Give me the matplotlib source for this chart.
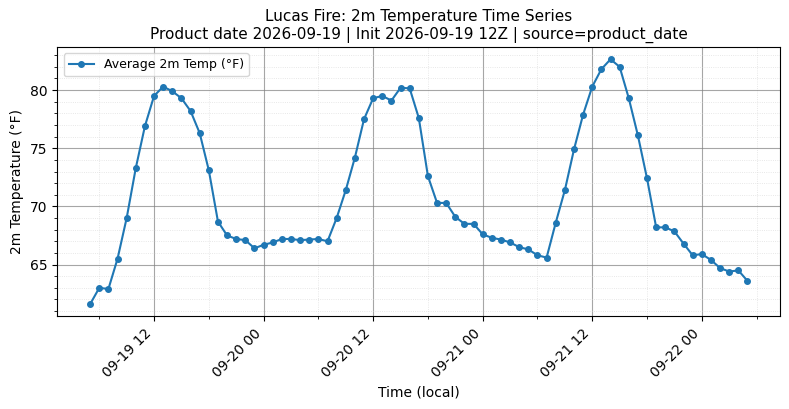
import matplotlib
matplotlib.use('Agg')
import matplotlib.dates as mdates
import matplotlib.pyplot as plt
import numpy as np
import pandas as pd

# hourly local times starting 2026-09-19 05:00
start_time = '2026-09-19 05:00'
temps_f = [
    61.6, 63.0, 62.9, 65.5, 69.0, 73.3, 76.9, 79.5, 80.3, 79.9,
    79.3, 78.2, 76.3, 73.1, 68.7, 67.5, 67.2, 67.1, 66.4, 66.7,
    66.9, 67.2, 67.2, 67.1, 67.15, 67.2, 67.0, 69.0, 71.4, 74.2,
    77.5, 79.3, 79.5, 79.1, 80.2, 80.15, 77.6, 72.6, 70.3, 70.3,
    69.1, 68.5, 68.5, 67.6, 67.3, 67.15, 66.9, 66.5, 66.3, 65.8,
    65.6, 68.6, 71.4, 74.9, 77.9, 80.3, 81.8, 82.65, 82.0, 79.3,
    76.1, 72.4, 68.2, 68.2, 67.85, 66.8, 65.8, 65.9, 65.4, 64.7,
    64.4, 64.5, 63.6,
]

times = pd.date_range(start_time, periods=len(temps_f), freq='h')
series_label = 'Average 2m Temp (°F)'
title = ('Lucas Fire: 2m Temperature Time Series\n'
         'Product date 2026-09-19 | Init 2026-09-19 12Z | source=product_date')

fig, ax = plt.subplots(figsize=(7.89, 4.09), dpi=100)
ax.plot(times, temps_f, marker='o', markersize=4, linewidth=1.5,
        color='#1f77b4', label=series_label)

ax.xaxis.set_major_locator(mdates.HourLocator(byhour=[0, 12]))
ax.xaxis.set_minor_locator(mdates.HourLocator(byhour=[6, 18]))
ax.xaxis.set_major_formatter(mdates.DateFormatter('%m-%d %H'))
ax.yaxis.set_minor_locator(matplotlib.ticker.MultipleLocator(1))

ax.grid(which='major', color='gray', alpha=0.7, linewidth=0.8)
ax.grid(which='minor', color='lightgray', linestyle=':', alpha=0.7, linewidth=0.6)

plt.setp(ax.get_xticklabels(), rotation=45, ha='right')
ax.set_xlabel('Time (local)')
ax.set_ylabel('2m Temperature (°F)')
ax.set_title(title, fontsize=11)
ax.legend(loc='upper left', fontsize=9)

fig.subplots_adjust(left=0.0726, right=0.989, top=0.885, bottom=0.2265)
fig.savefig('out.png')
